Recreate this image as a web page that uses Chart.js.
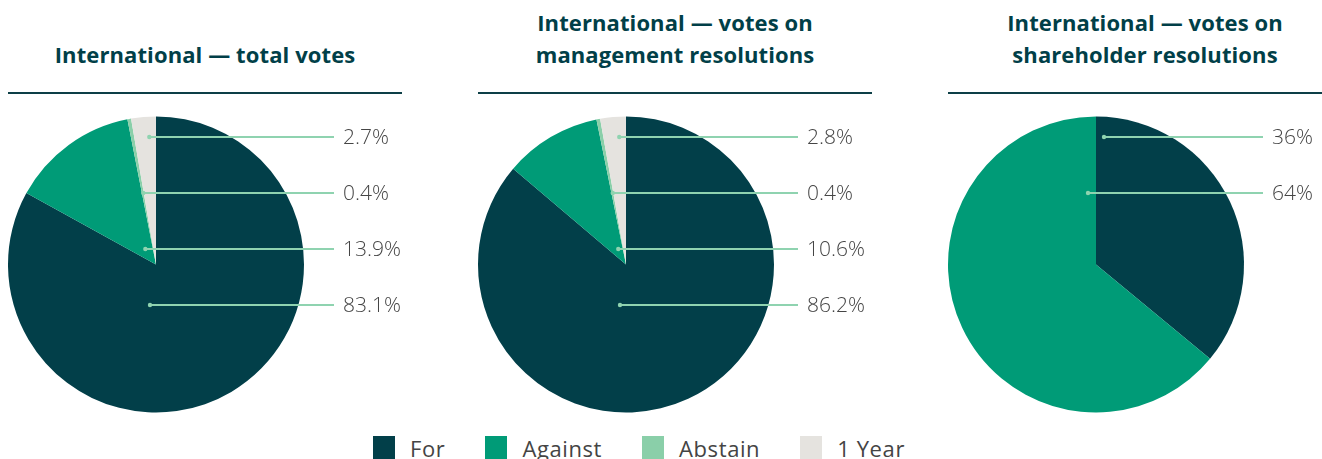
<!DOCTYPE html>
<html>
<head>
<meta charset="utf-8">
<script src="https://cdn.jsdelivr.net/npm/chart.js@4.4.0/dist/chart.umd.min.js"></script>
<style>
  html, body { margin: 0; padding: 0; background: #fff; }
  body { width: 1322px; height: 459px; position: relative; overflow: hidden; font-family: "Open Sans", "Noto Sans", sans-serif; }
  .box { position: absolute; top: 100px; width: 470px; height: 330px; }
  .title { position: absolute; top: 6px; height: 64px; width: 394px; display: flex; align-items: flex-end; justify-content: center;
           text-align: center; font-weight: bold; font-size: 22px; line-height: 32px; color: #013f48; letter-spacing: 0.1px; }
  .rule { position: absolute; top: 92px; height: 2px; width: 394px; background: #0d3f47; }
  .legend { position: absolute; left: 373px; top: 436px; display: flex; align-items: flex-start; font-size: 22px; color: #444; letter-spacing: 0.6px; }
  .legend .item { display: flex; align-items: flex-start; margin-right: 40px; }
  .legend .sw { width: 22px; height: 23px; margin-right: 15px; }
  .legend .lb { line-height: 25px; }
</style>
</head>
<body>
<div id="root"></div>
<div class="legend" id="legend"></div>
<script>
  // categories and colours
  const categories = ["For", "Against", "Abstain", "1 Year"];
  const colours = ["#023f49", "#009b77", "#8acfa9", "#e5e3df"];

  // chart titles (two lines where the picture wraps)
  const titles = [
    ["International — total votes"],
    ["International — votes on", "management resolutions"],
    ["International — votes on", "shareholder resolutions"]
  ];

  // values, in percent, in the order For, Against, Abstain, 1 Year
  const totalVotes = [83.1, 13.9, 0.4, 2.7];
  const managementVotes = [86.2, 10.6, 0.4, 2.8];
  const shareholderVotes = [36, 64];

  // order in which the labels are listed top to bottom (index into values)
  const labelOrder = [
    [3, 2, 1, 0],
    [3, 2, 1, 0],
    [0, 1]
  ];

  const seriesList = [totalVotes, managementVotes, shareholderVotes];
  const lineEnds = [178, 172, 167];

  // leader lines: from a dot in the slice to the label on the right
  const leaderLines = {
    id: "leaderLines",
    afterDatasetsDraw(chart, args, opts) {
      const ctx = chart.ctx;
      const meta = chart.getDatasetMeta(0);
      const values = chart.data.datasets[0].data;
      const first = meta.data[0];
      const cx = first.x, cy = first.y, r = first.outerRadius;
      const norm = a => { let v = a % (Math.PI * 2); if (v < 0) v += Math.PI * 2; return v; };
      const inside = (el, x, y) => {
        const dx = x - cx, dy = y - cy;
        if (dx * dx + dy * dy > r * r) return false;
        const a = norm(Math.atan2(dy, dx) - el.startAngle);
        return a <= norm(el.endAngle - el.startAngle) || (el.endAngle - el.startAngle) >= Math.PI * 2 - 1e-6;
      };
      ctx.save();
      opts.order.forEach((idx, k) => {
        const el = meta.data[idx];
        const y = chart.chartArea.top + opts.rowTop + k * opts.rowGap;
        // span of the slice along this row, nearest the centre
        const xs = [];
        for (let x = cx - r; x <= cx + r; x += 0.25) if (inside(el, x, y)) xs.push(x);
        let dot = cx;
        if (xs.length) {
          const target = cx - 6;
          let near = xs[0];
          xs.forEach(x => { if (Math.abs(x - target) < Math.abs(near - target)) near = x; });
          let a = near, b = near;
          while (xs.includes(a - 0.25)) a -= 0.25;
          while (xs.includes(b + 0.25)) b += 0.25;
          const inset = Math.min((b - a) * 0.3, 8);
          dot = Math.max(a + inset, Math.min(b - inset, target));
        }
        const xEnd = cx + opts.lineEnd;
        ctx.strokeStyle = "#8fd3b0";
        ctx.fillStyle = "#8fd3b0";
        ctx.lineWidth = 2;
        ctx.beginPath();
        ctx.moveTo(dot, y);
        ctx.lineTo(xEnd, y);
        ctx.stroke();
        ctx.beginPath();
        ctx.arc(dot, y, 2.2, 0, Math.PI * 2);
        ctx.fill();
        ctx.fillStyle = "#454545";
        ctx.font = "300 21px 'Open Sans', 'Noto Sans', sans-serif";
        ctx.textAlign = "left";
        ctx.textBaseline = "middle";
        ctx.fillText(values[idx] + "%", xEnd + 9, y + 1);
      });
      ctx.restore();
    }
  };

  const root = document.getElementById("root");

  seriesList.forEach((values, i) => {
    const left = 470 * i;

    const title = document.createElement("div");
    title.className = "title";
    title.style.left = (left + 8) + "px";
    title.innerHTML = titles[i].join("<br>");
    root.appendChild(title);

    const rule = document.createElement("div");
    rule.className = "rule";
    rule.style.left = (left + 8) + "px";
    root.appendChild(rule);

    const box = document.createElement("div");
    box.className = "box";
    box.style.left = left + "px";
    const canvas = document.createElement("canvas");
    box.appendChild(canvas);
    root.appendChild(box);

    new Chart(canvas.getContext("2d"), {
      type: "pie",
      data: {
        labels: categories.slice(0, values.length),
        datasets: [{
          data: values,
          backgroundColor: colours.slice(0, values.length),
          borderWidth: 0
        }]
      },
      options: {
        responsive: true,
        maintainAspectRatio: false,
        animation: false,
        layout: { padding: { left: 8, right: 166, top: 16, bottom: 17 } },
        plugins: {
          legend: { display: false },
          tooltip: { enabled: false },
          leaderLines: { order: labelOrder[i], rowTop: 21, rowGap: 56, lineEnd: lineEnds[i] }
        }
      },
      plugins: [leaderLines]
    });
  });

  // shared legend
  const legend = document.getElementById("legend");
  categories.forEach((name, i) => {
    const item = document.createElement("div");
    item.className = "item";
    item.innerHTML = '<div class="sw" style="background:' + colours[i] + '"></div><div class="lb">' + name + "</div>";
    legend.appendChild(item);
  });
</script>
</body>
</html>
